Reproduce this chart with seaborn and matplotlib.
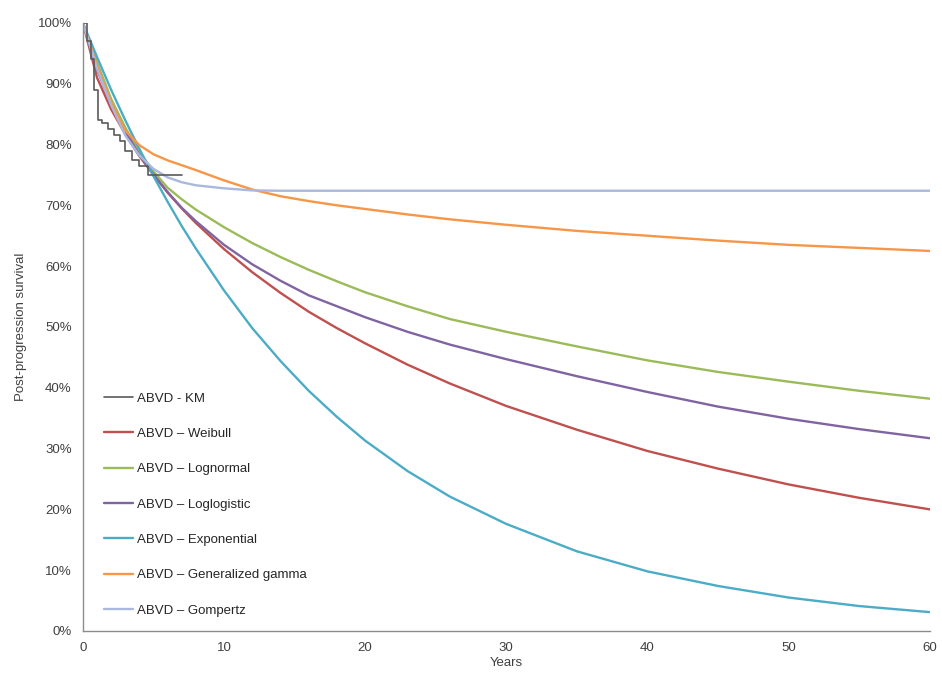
import numpy as np
import pandas as pd
import matplotlib
matplotlib.use("Agg")
import matplotlib.pyplot as plt
import seaborn as sns
from matplotlib.ticker import PercentFormatter

# ---- data ----
years = [0, 1, 2, 3, 4, 5, 6, 7, 8, 10, 12, 14, 16, 18, 20, 23, 26, 30, 35, 40, 45, 50, 55, 60]

weibull     = [100, 91.0, 85.8, 81.7, 78.1, 75.0, 72.1, 69.5, 67.1, 62.8, 59.0, 55.6, 52.5, 49.8, 47.3, 43.8, 40.7, 37.0, 33.1, 29.6, 26.7, 24.1, 21.9, 20.0]
lognormal   = [100, 93.5, 87.5, 82.8, 78.8, 75.6, 72.9, 71.0, 69.3, 66.4, 63.8, 61.5, 59.4, 57.5, 55.7, 53.4, 51.3, 49.2, 46.8, 44.5, 42.6, 41.0, 39.5, 38.2]
loglogistic = [100, 92.3, 86.7, 82.2, 78.3, 75.1, 72.2, 69.6, 67.4, 63.5, 60.3, 57.6, 55.2, 53.4, 51.6, 49.2, 47.1, 44.7, 41.9, 39.3, 36.9, 34.9, 33.2, 31.7]
exponential = [100, 94.4, 89.0, 84.0, 79.3, 74.8, 70.6, 66.6, 62.9, 56.0, 49.8, 44.4, 39.5, 35.2, 31.3, 26.3, 22.1, 17.6, 13.1, 9.8, 7.4, 5.5, 4.1, 3.1]
gengamma    = [100, 93.0, 87.0, 82.3, 79.9, 78.4, 77.4, 76.6, 75.8, 74.1, 72.6, 71.5, 70.7, 70.0, 69.4, 68.5, 67.7, 66.8, 65.8, 65.0, 64.2, 63.5, 63.0, 62.5]
gompertz    = [100, 92.5, 86.5, 81.5, 78.2, 76.0, 74.6, 73.8, 73.3, 72.8, 72.45, 72.4, 72.4, 72.4, 72.4, 72.4, 72.4, 72.4, 72.4, 72.4, 72.4, 72.4, 72.4, 72.4]

km_years = [0, 0.3, 0.55, 0.8, 1.05, 1.35, 1.8, 2.2, 2.6, 3.0, 3.5, 4.0, 4.6, 7.0]
km_surv  = [100, 97, 94, 89, 84, 83.5, 82.5, 81.5, 80.5, 79, 77.5, 76.5, 75, 75]

labels = ["ABVD - KM", "ABVD \u2013 Weibull", "ABVD \u2013 Lognormal", "ABVD \u2013 Loglogistic",
          "ABVD \u2013 Exponential", "ABVD \u2013 Generalized gamma", "ABVD \u2013 Gompertz"]
colors = ["#5a5a5a", "#C0504D", "#9BBB59", "#8064A2", "#4BACC6", "#F79646", "#A9B8DC"]

models = [weibull, lognormal, loglogistic, exponential, gengamma, gompertz]

# ---- figure ----
sns.set_theme(style="white")
plt.rcParams['font.family'] = ['Liberation Sans', 'DejaVu Sans']

fig = plt.figure(figsize=(9.42, 6.76), dpi=100)
ax = fig.add_axes([0.088, 0.0666, 0.899, 0.8995])

for lab, col, vals in zip(labels[1:], colors[1:], models):
    df = pd.DataFrame({"Years": years, "S": vals})
    sns.lineplot(data=df, x="Years", y="S", ax=ax, color=col, lw=1.7, label=lab)

km_df = pd.DataFrame({"Years": km_years, "S": km_surv})
sns.lineplot(data=km_df, x="Years", y="S", ax=ax, color=colors[0], lw=1.2,
             drawstyle="steps-post", label=labels[0])

ax.set_xlim(0, 60)
ax.set_ylim(0, 100)
ax.set_xticks(range(0, 61, 10))
ax.set_yticks(range(0, 101, 10))
ax.yaxis.set_major_formatter(PercentFormatter(100, decimals=0))
ax.tick_params(axis='both', length=0, labelsize=9.5, colors="#404040")
ax.tick_params(axis='x', pad=8)
ax.tick_params(axis='y', pad=8)
for s in ["top", "right"]:
    ax.spines[s].set_visible(False)
for s in ["left", "bottom"]:
    ax.spines[s].set_color("#8c8c8c")
    ax.spines[s].set_linewidth(1.0)

ax.set_xlabel("Years", fontsize=9.5, color="#404040", labelpad=2)
ax.set_ylabel("Post-progression survival", fontsize=9.5, color="#404040", labelpad=8)

h, l = ax.get_legend_handles_labels()
order = [l.index(x) for x in labels]
leg = ax.legend([h[i] for i in order], [l[i] for i in order], loc="lower left",
                bbox_to_anchor=(0.105, 0.08), bbox_transform=fig.transFigure,
                frameon=False, fontsize=9.5, labelspacing=1.75, handlelength=2.2,
                handletextpad=0.3, borderaxespad=0)
for t in leg.get_texts():
    t.set_color("#262626")

fig.savefig("out.png", dpi=100)
